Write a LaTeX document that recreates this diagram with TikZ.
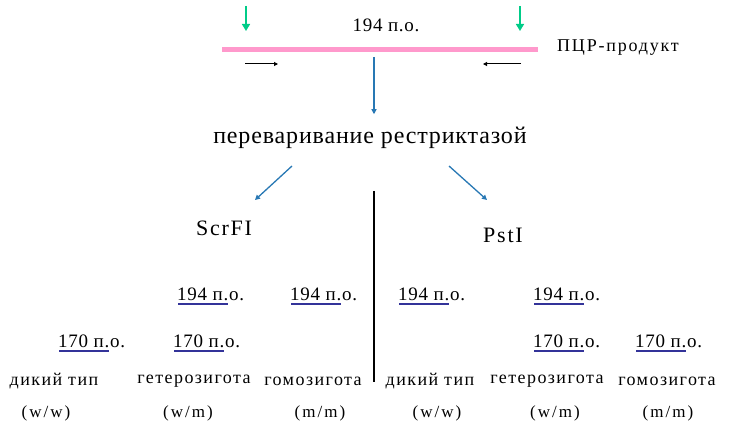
\documentclass[tikz,border=0pt]{standalone}
\usepackage{fontspec}
\setmainfont{Liberation Serif}
\newfontfamily\lspa[LetterSpace=4]{Liberation Serif}
\newfontfamily\lspd[LetterSpace=3.5]{Liberation Serif}
\newfontfamily\lspp[LetterSpace=10]{Liberation Serif}
\newfontfamily\lspe[LetterSpace=8]{Liberation Serif}
\newfontfamily\lspg[LetterSpace=8]{Liberation Serif}
\newfontfamily\lspc[LetterSpace=12]{Liberation Serif}
\usetikzlibrary{arrows.meta}
\definecolor{tealg}{RGB}{0,204,136}
\definecolor{pinkl}{RGB}{255,153,204}
\definecolor{blua}{RGB}{40,120,180}
\definecolor{bandb}{RGB}{51,51,153}
\begin{document}
\begin{tikzpicture}[x=1pt,y=-1pt,
  lbl/.style={inner sep=0pt,font=\lspa\fontsize{19}{21}\selectfont},
  gen/.style={inner sep=0pt,font=\lspg\fontsize{18}{20}\selectfont},
  gcode/.style={inner sep=0pt,font=\lspc\fontsize{17}{19}\selectfont},
  enz/.style={inner sep=0pt,font=\lspe\fontsize{22}{24}\selectfont},
  band/.style={bandb,line width=2.6pt},
  garrow/.style={tealg,line width=1.6pt,-{Triangle[length=7pt,width=8pt]}},
  barrow/.style={blua,line width=1.3pt,-{Triangle[length=5pt,width=5pt]}},
  primer/.style={black,line width=1pt,-{Triangle[length=4pt,width=4pt]}}]
\useasboundingbox (0,0) rectangle (732,425);
% top
\coordinate (g1s) at (246,6); \coordinate (g1e) at (246,31);
\coordinate (g2s) at (520,6); \coordinate (g2e) at (520,31);
\draw[garrow] (g1s) -- (g1e);
\draw[garrow] (g2s) -- (g2e);
\node[lbl] (len) at (386,25) {194 п.о.};
\coordinate (pl) at (222,50); \coordinate (pr) at (538,50);
\draw[pinkl,line width=5pt] (pl) -- (pr);
\node[inner sep=0pt,font=\lspp\fontsize{18}{20}\selectfont,anchor=west] (pcr) at (557,48) {ПЦР-продукт};
\coordinate (p1s) at (245,64); \coordinate (p1e) at (278,64);
\coordinate (p2s) at (521,64); \coordinate (p2e) at (483,64);
\draw[primer] (p1s) -- (p1e);
\draw[primer] (p2s) -- (p2e);
\coordinate (vs) at (374,57);
\node[font=\lspd\fontsize{24}{26}\selectfont,inner xsep=0pt,inner ysep=0pt,outer ysep=13pt] (dig) at (370,138) {переваривание рестриктазой};
\draw[barrow] (vs) -- (dig.north -| vs);
\coordinate (l1) at (292,166); \coordinate (l2) at (255,200);
\coordinate (r1) at (449,166); \coordinate (r2) at (487,200);
\draw[barrow] (l1) -- (l2);
\draw[barrow] (r1) -- (r2);
\node[enz] (scr) at (224,228) {ScrFI};
\node[enz] (pst) at (503,235) {PstI};
\coordinate (vt) at (374,191); \coordinate (vb) at (374,382);
\draw[black,line width=1.4pt] (vt) -- (vb);
% bands
\foreach \n/\x/\y/\t in {a/177/294/194, b/290/294/194, c/398/294/194, d/533/294/194,
                         e/58/341/170, f/173/341/170, g/533/341/170, h/635/341/170}{
  \node[lbl,anchor=west] (t\n) at (\x,\y) {\t\ п.о.};
  \draw[band] (\x+1,\y+10) -- (\x+51,\y+10);
}
% genotypes
\foreach \n/\x/\t in {a/54/дикий тип, b/194/гетерозигота, c/313/гомозигота,
                      d/430/дикий тип, e/547/гетерозигота, f/667/гомозигота}{
  \node[gen] (gt\n) at (\x,381) {\t};
}
\foreach \n/\x/\t in {a/46/{(w/w)}, b/188/{(w/m)}, c/320/{(m/m)},
                      d/437/{(w/w)}, e/555/{(w/m)}, f/668/{(m/m)}}{
  \node[gcode] (gc\n) at (\x,413) {\t};
}
\end{tikzpicture}
\end{document}
